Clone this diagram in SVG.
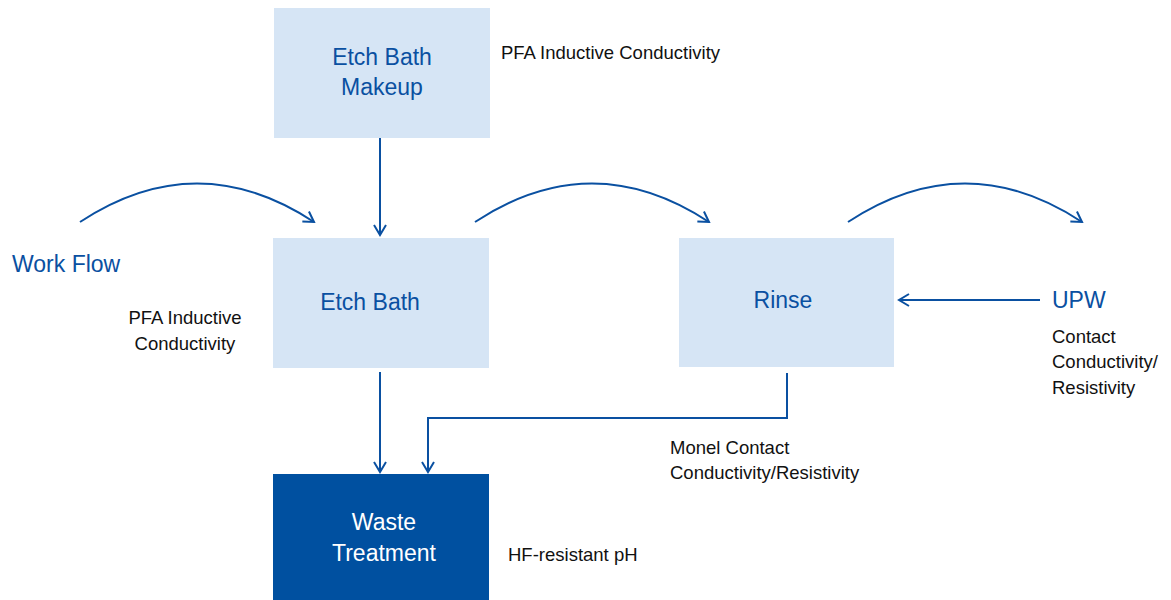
<svg xmlns="http://www.w3.org/2000/svg" width="1171" height="600" viewBox="0 0 1171 600">
<defs>
<marker id="ah" viewBox="0 0 14 14" refX="12" refY="7" markerWidth="14" markerHeight="14" markerUnits="userSpaceOnUse" orient="auto">
<path d="M2,1 L12,7 L2,13" fill="none" stroke="#0a50a1" stroke-width="2"/>
</marker>
<style>
.box{fill:#d6e5f5}
.dark{fill:#0050a0}
.bt{font-family:"Liberation Sans",Arial,sans-serif;font-size:23px;fill:#0a50a1}
.wt{font-family:"Liberation Sans",Arial,sans-serif;font-size:23px;fill:#ffffff}
.lb{font-family:"Liberation Sans",Arial,sans-serif;font-size:18.5px;fill:#111111}
.c{fill:none;stroke:#0a50a1;stroke-width:2}
</style>
</defs>
<rect width="1171" height="600" fill="#ffffff"/>
<g id="connectors">
<path class="c" d="M380,138 L380,235" marker-end="url(#ah)"/>
<path class="c" d="M380,372 L380,472" marker-end="url(#ah)"/>
<path class="c" d="M787,373 L787,418 L428,418 L428,472" marker-end="url(#ah)"/>
<path class="c" d="M1040,300 L899,300" marker-end="url(#ah)"/>
<path class="c" d="M80,222 Q197,145 314,222" marker-end="url(#ah)"/>
<path class="c" d="M475,222 Q592,145 709,222" marker-end="url(#ah)"/>
<path class="c" d="M848,222 Q965,145 1082,222" marker-end="url(#ah)"/>
</g>
<g id="makeup">
<rect class="box" x="274" y="8" width="216" height="130"/>
<text class="bt" x="382" y="65" text-anchor="middle">Etch Bath</text>
<text class="bt" x="382" y="95" text-anchor="middle">Makeup</text>
</g>
<g id="etchbath">
<rect class="box" x="273" y="238" width="216" height="130"/>
<text class="bt" x="370" y="310" text-anchor="middle">Etch Bath</text>
</g>
<g id="rinse">
<rect class="box" x="679" y="238" width="215" height="129"/>
<text class="bt" x="783" y="308" text-anchor="middle">Rinse</text>
</g>
<g id="waste">
<rect class="dark" x="273" y="474" width="216" height="126"/>
<text class="wt" x="384" y="530" text-anchor="middle">Waste</text>
<text class="wt" x="384" y="561" text-anchor="middle">Treatment</text>
</g>
<g id="workflow">
<text class="bt" x="12" y="272">Work Flow</text>
</g>
<g id="upw">
<text class="bt" x="1052" y="308">UPW</text>
</g>
<g id="labels">
<text class="lb" x="501" y="59">PFA Inductive Conductivity</text>
<text class="lb" x="185" y="324" text-anchor="middle">PFA Inductive</text>
<text class="lb" x="185" y="350" text-anchor="middle">Conductivity</text>
<text class="lb" x="1052" y="343">Contact</text>
<text class="lb" x="1052" y="368">Conductivity/</text>
<text class="lb" x="1052" y="394">Resistivity</text>
<text class="lb" x="670" y="454">Monel Contact</text>
<text class="lb" x="670" y="479">Conductivity/Resistivity</text>
<text class="lb" x="508" y="561">HF-resistant pH</text>
</g>
</svg>
